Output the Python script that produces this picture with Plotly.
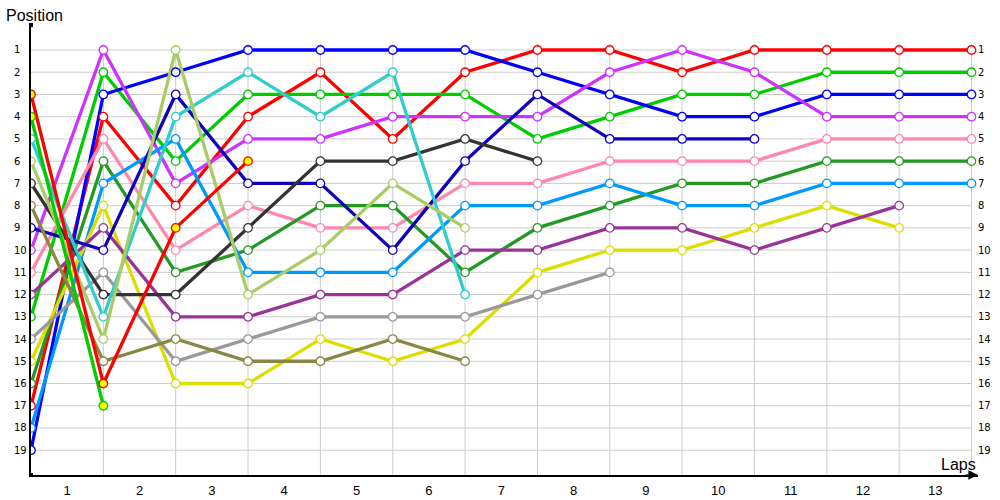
import plotly.graph_objects as go

# ---- data ----
laps = list(range(0, 14))
lap_labels = [str(i) for i in range(1, 14)]
positions = list(range(1, 20))

N = None
drivers = [
    # name, line colour, marker fill, positions per lap 0..13
    ("Red",        "#ff0000", "white",   [17, 4, 8, 4, 2, 5, 2, 1, 1, 2, 1, 1, 1, 1]),
    ("Green",      "#00cc00", "white",   [13, 2, 6, 3, 3, 3, 3, 5, 4, 3, 3, 2, 2, 2]),
    ("Blue",       "#0000ff", "white",   [19, 3, 2, 1, 1, 1, 1, 2, 3, 4, 4, 3, 3, 3]),
    ("Violet",     "#cc33ff", "white",   [10, 1, 7, 5, 5, 4, 4, 4, 2, 1, 2, 4, 4, 4]),
    ("Pink",       "#ff88aa", "white",   [11, 5, 10, 8, 9, 9, 7, 7, 6, 6, 6, 5, 5, 5]),
    ("DarkGreen",  "#229922", "white",   [16, 6, 11, 10, 8, 8, 11, 9, 8, 7, 7, 6, 6, 6]),
    ("LightBlue",  "#0099ff", "white",   [18, 7, 5, 11, 11, 11, 8, 8, 7, 8, 8, 7, 7, 7]),
    ("Yellow",     "#dddd00", "white",   [15, 8, 16, 16, 14, 15, 14, 11, 10, 10, 9, 8, 9, N]),
    ("Purple",     "#993399", "white",   [12, 9, 13, 13, 12, 12, 10, 10, 9, 9, 10, 9, 8, N]),
    ("DarkBlue",   "#1100bb", "white",   [9, 10, 3, 7, 7, 10, 6, 3, 5, 5, 5, N, N, N]),
    ("Gray",       "#999999", "white",   [14, 11, 15, 14, 13, 13, 13, 12, 11, N, N, N, N, N]),
    ("DarkGray",   "#333333", "white",   [7, 12, 12, 9, 6, 6, 5, 6, N, N, N, N, N, N]),
    ("Olive",      "#888844", "white",   [8, 15, 14, 15, 15, 14, 15, N, N, N, N, N, N, N]),
    ("Cyan",       "#33cccc", "white",   [5, 13, 4, 2, 4, 2, 12, N, N, N, N, N, N, N]),
    ("LightOlive", "#aacc66", "white",   [6, 14, 1, 12, 10, 7, 9, N, N, N, N, N, N, N]),
    ("Red 2",      "#ff0000", "#ffff00", [3, 16, 9, 6, N, N, N, N, N, N, N, N, N, N]),
    ("Green 2",    "#00cc00", "#ffff00", [4, 17, N, N, N, N, N, N, N, N, N, N, N, N]),
]

# ---- layout geometry ----
X_MAX = 13.09
Y_TOP = -0.124
Y_BOTTOM = 20.115
GRID_TOP = 0.73
GRID_COLOR = "#cccccc"

fig = go.Figure()

# lines first
for name, col, fill, pos in drivers:
    fig.add_trace(go.Scatter(
        x=laps, y=pos, mode="lines", name=name,
        line=dict(color=col, width=3.3), connectgaps=False,
        hoverinfo="skip", showlegend=False))
# markers on top
for name, col, fill, pos in drivers:
    fig.add_trace(go.Scatter(
        x=laps, y=pos, mode="markers", name=name,
        marker=dict(size=8.5, color=fill, line=dict(color=col, width=1.3)),
        showlegend=False))

# axis end dots
fig.add_trace(go.Scatter(x=[0, 0], y=[Y_TOP, Y_BOTTOM], mode="markers",
                         marker=dict(symbol="square", size=4, color="black"),
                         cliponaxis=False, showlegend=False, hoverinfo="skip"))

shapes = []
for p in positions:
    shapes.append(dict(type="line", xref="x", yref="y", x0=laps[0], x1=laps[-1], y0=p, y1=p,
                       line=dict(color=GRID_COLOR, width=1), layer="below"))
for l in laps[1:]:
    shapes.append(dict(type="line", xref="x", yref="y", x0=l, x1=l, y0=GRID_TOP, y1=Y_BOTTOM,
                       line=dict(color=GRID_COLOR, width=1), layer="below"))

annotations = []
for p in positions:
    annotations.append(dict(x=laps[0], y=p, xref="x", yref="y", text=str(p), showarrow=False,
                            xanchor="left", xshift=-19, font=dict(family="DejaVu Sans", size=10, color="black")))
    annotations.append(dict(x=laps[-1], y=p, xref="x", yref="y", text=str(p), showarrow=False,
                            xanchor="left", xshift=5, font=dict(family="DejaVu Sans", size=10, color="black")))

annotations.append(dict(x=-0.0285, y=1.022, xref="paper", yref="paper", text="Position", showarrow=False,
                        xanchor="left", yanchor="middle",
                        font=dict(family="Liberation Sans", size=16, color="black")))
annotations.append(dict(x=1.0, y=0.024, xref="paper", yref="paper", text="Laps", showarrow=False,
                        xanchor="right", yanchor="middle",
                        font=dict(family="Liberation Sans", size=16, color="black")))
# x axis arrow head
annotations.append(dict(x=X_MAX, y=Y_BOTTOM, xref="x", yref="y", ax=-14, ay=0, text="",
                        showarrow=True, arrowhead=2, arrowsize=1.6, arrowwidth=1.2, arrowcolor="black"))

fig.update_layout(
    width=1000, height=500,
    margin=dict(l=31, r=22, t=25, b=25),
    paper_bgcolor="white", plot_bgcolor="white",
    shapes=shapes, annotations=annotations,
    showlegend=False,
    xaxis=dict(range=[0, X_MAX], showgrid=False, zeroline=False, automargin=False,
               showline=True, linecolor="black", linewidth=1.5,
               tickvals=[l + 0.5 for l in laps[:-1]], ticktext=lap_labels,
               ticks="", ticklabelstandoff=3,
               tickfont=dict(family="Liberation Sans", size=13, color="black"),
               fixedrange=True),
    yaxis=dict(range=[Y_BOTTOM, Y_TOP], showgrid=False, zeroline=False, automargin=False,
               showline=True, linecolor="black", linewidth=1.5,
               showticklabels=False, ticks="", fixedrange=True),
)

fig.write_html("out.html", config={"displayModeBar": False},
               post_script="document.body.style.margin='0px';")
